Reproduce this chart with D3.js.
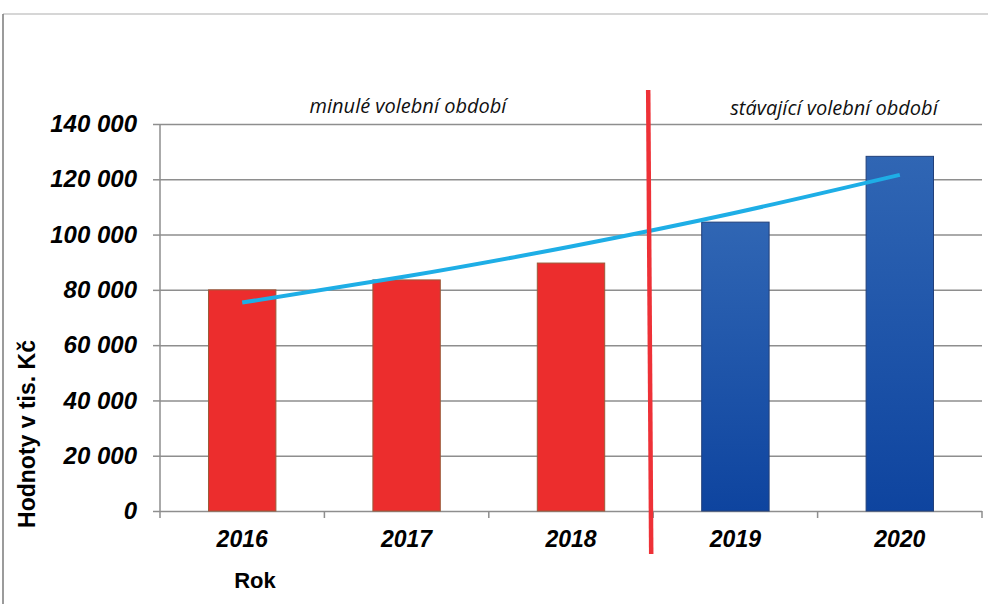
<!DOCTYPE html>
<html>
<head>
<meta charset="utf-8">
<script src="https://cdn.jsdelivr.net/npm/d3@7"></script>
<style>
  body { margin: 0; background: #fff; }
  svg { display: block; }
  .tick-lbl { font-family: "Liberation Sans", Arial, sans-serif; font-weight: bold; font-style: italic; font-size: 23px; fill: #000; }
  .y-lbl { font-size: 24px; }
  .axis-title { font-family: "Liberation Sans", Arial, sans-serif; font-weight: bold; font-size: 22px; fill: #000; }
  .y-title { font-size: 23px; }
  .period { font-family: "Open Sans", sans-serif; font-style: italic; font-size: 20px; fill: #111; }
</style>
</head>
<body>
<div id="chart"></div>
<script>
// data
const years = ['2016', '2017', '2018', '2019', '2020'];
const values = [80000, 83600, 89700, 104500, 128300];
const period = ['past', 'past', 'past', 'current', 'current'];
// trend line
const trendValues = [75400, 84900, 95700, 107900, 121600];
const yTicks = [0, 20000, 40000, 60000, 80000, 100000, 120000, 140000];
const periodLabels = ['minulé volební období', 'stávající volební období'];

const width = 988;
const height = 604;
const marginLeft = 160;
const marginRight = 6;
const marginTop = 124;
const marginBottom = 93;

const $svg = d3.select('#chart').append('svg')
  .attr('width', width)
  .attr('height', height);

const defs = $svg.append('defs');
const grad = defs.append('linearGradient')
  .attr('id', 'blueGrad')
  .attr('x1', 0).attr('y1', 0).attr('x2', 0).attr('y2', 1);
grad.append('stop').attr('offset', '0%').attr('stop-color', '#3066b4');
grad.append('stop').attr('offset', '100%').attr('stop-color', '#0e449f');

// frame
$svg.append('line')
  .attr('x1', 3).attr('x2', width).attr('y1', 14).attr('y2', 14)
  .attr('stroke', '#d6d6d6').attr('stroke-width', 2);
$svg.append('line')
  .attr('x1', 3).attr('x2', 3).attr('y1', 14).attr('y2', height)
  .attr('stroke', '#7a7a7a').attr('stroke-width', 1.5);

// scales
const scaleX = d3.scaleBand()
  .domain(years)
  .range([marginLeft, width - marginRight])
  .padding(0);

const scaleY = d3.scaleLinear()
  .domain([0, 140000])
  .range([height - marginBottom, marginTop]);

const barW = scaleX.bandwidth() * 0.41;

// gridlines + y axis
const $yAxis = $svg.append('g')
  .attr('transform', `translate(${marginLeft},0)`)
  .call(d3.axisLeft(scaleY)
    .tickValues(yTicks)
    .tickSize(7)
    .tickPadding(16)
    .tickFormat(d => d3.format(',')(d).replace(/,/g, ' ')));
$yAxis.select('.domain').remove();
$yAxis.selectAll('.tick line').attr('stroke', '#8e8e8e').attr('stroke-width', 1.5);
$yAxis.selectAll('.tick text').attr('class', 'tick-lbl y-lbl').attr('font-size', null).attr('font-family', null);
$yAxis.selectAll('.tick').append('line')
  .attr('x1', 0).attr('x2', width - marginRight - marginLeft)
  .attr('stroke', '#8e8e8e').attr('stroke-width', 1.5);

// vertical axis line
$svg.append('line')
  .attr('x1', marginLeft).attr('x2', marginLeft)
  .attr('y1', scaleY(140000)).attr('y2', scaleY(0) + 7)
  .attr('stroke', '#8e8e8e').attr('stroke-width', 1.5);

// x axis ticks at band edges
const edges = years.map(d => scaleX(d)).concat([scaleX(years[years.length - 1]) + scaleX.bandwidth()]);
$svg.append('g').selectAll('line')
  .data(edges.slice(1))
  .enter().append('line')
  .attr('x1', d => d).attr('x2', d => d)
  .attr('y1', scaleY(0)).attr('y2', scaleY(0) + 7)
  .attr('stroke', '#8e8e8e').attr('stroke-width', 1.5);

// bars
$svg.append('g').selectAll('rect')
  .data(years)
  .enter().append('rect')
  .attr('x', d => scaleX(d) + (scaleX.bandwidth() - barW) / 2)
  .attr('y', (d, i) => scaleY(values[i]))
  .attr('width', barW)
  .attr('height', (d, i) => scaleY(0) - scaleY(values[i]))
  .attr('fill', (d, i) => period[i] === 'past' ? '#ec2d2d' : 'url(#blueGrad)')
  .attr('stroke', (d, i) => period[i] === 'past' ? '#9c5a3a' : '#22407a')
  .attr('stroke-width', 1);

// x labels
$svg.append('g').selectAll('text')
  .data(years)
  .enter().append('text')
  .attr('class', 'tick-lbl')
  .attr('x', d => scaleX(d) + scaleX.bandwidth() / 2)
  .attr('y', 547)
  .attr('text-anchor', 'middle')
  .text(d => d);

// trend line
const line = d3.line()
  .x((d, i) => scaleX(years[i]) + scaleX.bandwidth() / 2)
  .y(d => scaleY(d))
  .curve(d3.curveNatural);
$svg.append('path')
  .datum(trendValues)
  .attr('d', line)
  .attr('fill', 'none')
  .attr('stroke', '#1eaee6')
  .attr('stroke-width', 4);

// divider between the two periods (slightly slanted, hand drawn)
const divX = scaleX('2019');
$svg.append('line')
  .attr('x1', divX - 5).attr('x2', divX - 2)
  .attr('y1', 90).attr('y2', 554)
  .attr('stroke', '#ee3137').attr('stroke-width', 4.5);

// period labels
$svg.append('text')
  .attr('class', 'period')
  .attr('x', 408)
  .attr('y', 113)
  .attr('text-anchor', 'middle')
  .text(periodLabels[0]);
$svg.append('text')
  .attr('class', 'period')
  .attr('x', 834)
  .attr('y', 115)
  .attr('text-anchor', 'middle')
  .text(periodLabels[1]);

// axis titles
$svg.append('text')
  .attr('class', 'axis-title y-title')
  .attr('transform', 'translate(35,434) rotate(-90)')
  .attr('text-anchor', 'middle')
  .text('Hodnoty v tis. Kč');
$svg.append('text')
  .attr('class', 'axis-title')
  .attr('x', 255)
  .attr('y', 588)
  .attr('text-anchor', 'middle')
  .text('Rok');
</script>
</body>
</html>
